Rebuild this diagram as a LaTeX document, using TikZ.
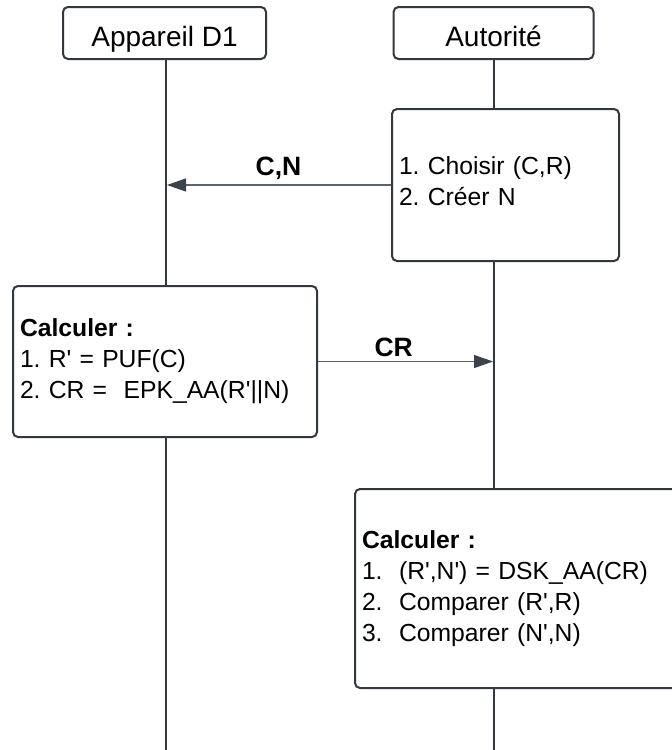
\documentclass[tikz,border=0pt]{standalone}
\usepackage{fontspec}
\setmainfont{Liberation Sans}[Ligatures=TeXOff]
\usetikzlibrary{arrows.meta}
\definecolor{edge}{HTML}{33383E}
\definecolor{msgline}{HTML}{5B636B}
\definecolor{msgtip}{HTML}{3A424C}
\frenchspacing
\begin{document}
\begin{tikzpicture}[x=1pt,y=-1pt,
  actor/.style={draw=edge,line width=2pt,rounded corners=5pt,fill=white,
    minimum width=203pt,minimum height=52pt,inner sep=0pt,
    text height=27pt,text depth=1pt,
    font=\fontsize{28}{32}\selectfont},
  lifeline/.style={draw=edge,line width=2pt},
  stepbox/.style={draw=edge,line width=2pt,rounded corners=5pt,fill=white,
    inner xsep=7pt,inner ysep=0pt,align=left,
    font=\fontsize{24.7}{31}\selectfont},
  msg/.style={draw=msgline,line width=1.2pt,
    -{Triangle[length=19pt,width=13pt,fill=msgtip,color=msgtip]}},
  msglabel/.style={font=\bfseries\fontsize{26.5}{30}\selectfont,inner sep=0pt}]
\clip (0,0) rectangle (672,750);
\fill[white] (0,0) rectangle (672,750);

% participants
\node[actor] (devA) at (164.5,33) {Appareil D1};
\node[actor,minimum width=200pt] (auth) at (493.5,33) {Autorité};

% lifelines run to the bottom edge
\coordinate (devEnd) at (166,752);
\coordinate (authEnd) at (494,752);
\draw[lifeline] (devA.south -| devEnd) -- (devEnd);
\draw[lifeline] (auth.south -| authEnd) -- (authEnd);

% activity boxes
\node[stepbox,text width=213pt,minimum height=152pt] (choose) at (505.5,185)
  {1. Choisir (C,R)\\2. Créer N\rule[-7pt]{0pt}{7pt}};
\node[stepbox,text width=290pt,minimum height=151pt] (devCalc) at (165,361.5)
  {\textbf{Calculer :}\\1. R' = PUF(C)\\2. CR =~ EPK\_AA(R'||N)};
\node[stepbox,text width=336pt,minimum height=199pt] (authCalc) at (530,588.5)
  {\textbf{Calculer :}\\1.~ (R',N') = DSK\_AA(CR)\\2.~ Comparer (R',R)\\3.~ Comparer (N',N)};

% messages
\coordinate (cnEnd) at (devEnd |- choose.west);
\coordinate (crEnd) at (authEnd |- devCalc.east);
\draw[msg,shorten >=1pt] (choose.west) -- node[msglabel,yshift=17pt] (cnLabel) {C,N} (cnEnd);
\draw[msg,shorten >=1pt] (devCalc.east) -- node[msglabel,pos=0.43,yshift=14pt] (crLabel) {CR} (crEnd);
\end{tikzpicture}
\end{document}
